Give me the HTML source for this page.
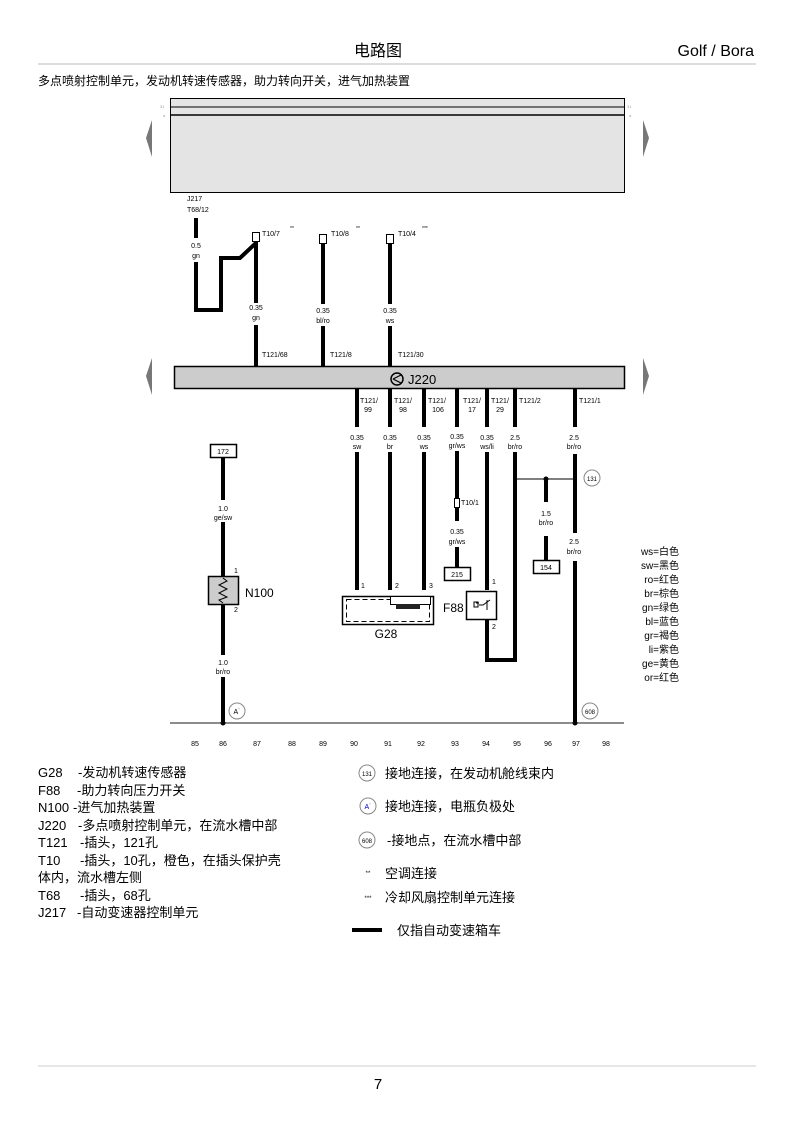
<!DOCTYPE html>
<html><head><meta charset="utf-8"><style>
html,body{margin:0;padding:0;background:#fff}
svg{display:block}
text{font-family:"Liberation Sans","Noto Sans CJK SC",sans-serif;fill:#000}
.s{font-size:7px}
.c{text-anchor:middle}
.w{stroke:#000;stroke-width:4;fill:none}
.t{font-size:13px}
</style></head><body>
<svg width="794" height="1123" viewBox="0 0 794 1123" xmlns="http://www.w3.org/2000/svg">
<text x="378" y="56" class="c" style="font-size:16px">电路图</text>
<text x="754" y="56" style="font-size:16px;text-anchor:end">Golf / Bora</text>
<line x1="38" y1="64" x2="756" y2="64" stroke="#bbb"/>
<text x="38" y="85" style="font-size:12px">多点喷射控制单元，发动机转速传感器，助力转向开关，进气加热装置</text>

<rect x="170.5" y="98.5" width="454" height="94" fill="#e4e4e4" stroke="#000"/>
<line x1="170" y1="107" x2="624" y2="107" stroke="#000"/>
<line x1="170" y1="115" x2="624" y2="115" stroke="#000" stroke-width="1.5"/>
<text x="160" y="108" style="font-size:4px;fill:#999">31</text>
<text x="163" y="117" style="font-size:4px;fill:#999">a</text>
<text x="627" y="108" style="font-size:4px;fill:#999">31</text>
<text x="629" y="117" style="font-size:4px;fill:#999">a</text>
<polygon points="152,120 146,138 152,157" fill="#777"/>
<polygon points="643,120 649,138 643,157" fill="#777"/>
<polygon points="152,358 146,376 152,395" fill="#777"/>
<polygon points="643,358 649,376 643,395" fill="#777"/>

<rect x="174.5" y="366.5" width="450" height="22" fill="#ccc" stroke="#000" stroke-width="1.5"/>
<circle cx="397" cy="379" r="6" fill="none" stroke="#000" stroke-width="1.5"/>
<path d="M393,379 L401,375 M393,379 L401,383" stroke="#000" stroke-width="1.2"/>
<text x="408" y="384" style="font-size:13px">J220</text>

<text x="187" y="201" class="s">J217</text>
<text x="187" y="212" class="s">T68/12</text>
<line x1="196" y1="218" x2="196" y2="238" class="w"/>
<text x="196" y="248" class="s c">0.5</text>
<text x="196" y="258" class="s c">gn</text>
<path d="M196,262 V310 H221 V258 H240 L256,243" class="w"/>
<g>
<rect x="252.5" y="232.5" width="7" height="9" fill="#fff" stroke="#000"/>
<line x1="256" y1="242" x2="256" y2="303" class="w"/>
<text x="262" y="236" class="s">T10/7</text><text x="290" y="230" style="font-size:5px">**</text>
<text x="256" y="310" class="s c">0.35</text><text x="256" y="320" class="s c">gn</text>
<line x1="256" y1="325" x2="256" y2="366" class="w"/>
<text x="262" y="357" class="s">T121/68</text>
</g>
<g>
<rect x="319.5" y="234.5" width="7" height="9" fill="#fff" stroke="#000"/>
<line x1="323" y1="244" x2="323" y2="304" class="w"/>
<text x="331" y="236" class="s">T10/8</text><text x="356" y="230" style="font-size:5px">**</text>
<text x="323" y="313" class="s c">0.35</text><text x="323" y="323" class="s c">bl/ro</text>
<line x1="323" y1="326" x2="323" y2="366" class="w"/>
<text x="330" y="357" class="s">T121/8</text>
</g>
<g>
<rect x="386.5" y="234.5" width="7" height="9" fill="#fff" stroke="#000"/>
<line x1="390" y1="244" x2="390" y2="304" class="w"/>
<text x="398" y="236" class="s">T10/4</text><text x="422" y="230" style="font-size:5px">***</text>
<text x="390" y="313" class="s c">0.35</text><text x="390" y="323" class="s c">ws</text>
<line x1="390" y1="326" x2="390" y2="366" class="w"/>
<text x="398" y="357" class="s">T121/30</text>
</g>

<g class="s">
<text x="360" y="403">T121/</text><text x="368" y="412" class="c">99</text>
<text x="394" y="403">T121/</text><text x="403" y="412" class="c">98</text>
<text x="428" y="403">T121/</text><text x="438" y="412" class="c">106</text>
<text x="463" y="403">T121/</text><text x="472" y="412" class="c">17</text>
<text x="491" y="403">T121/</text><text x="500" y="412" class="c">29</text>
<text x="519" y="403">T121/2</text>
<text x="579" y="403">T121/1</text>
</g>
<g class="w">
<line x1="357" y1="389" x2="357" y2="427"/><line x1="357" y1="452" x2="357" y2="590"/>
<line x1="390" y1="389" x2="390" y2="427"/><line x1="390" y1="452" x2="390" y2="590"/>
<line x1="424" y1="389" x2="424" y2="427"/><line x1="424" y1="452" x2="424" y2="590"/>
<line x1="457" y1="389" x2="457" y2="427"/><line x1="457" y1="451" x2="457" y2="498"/><line x1="457" y1="508" x2="457" y2="521"/><line x1="457" y1="547" x2="457" y2="568"/>
<line x1="487" y1="389" x2="487" y2="427"/><line x1="487" y1="452" x2="487" y2="590"/>
<path d="M487,620 V660 H515 V452"/><line x1="515" y1="389" x2="515" y2="427"/>
<line x1="575" y1="389" x2="575" y2="427"/><line x1="575" y1="454" x2="575" y2="533"/><line x1="575" y1="561" x2="575" y2="723"/>
<line x1="546" y1="479" x2="546" y2="502"/><line x1="546" y1="536" x2="546" y2="560"/>
<line x1="223" y1="458" x2="223" y2="500"/><line x1="223" y1="522" x2="223" y2="577"/>
<line x1="223" y1="604" x2="223" y2="655"/><line x1="223" y1="677" x2="223" y2="723"/>
</g>
<g class="s c">
<text x="357" y="440">0.35</text><text x="357" y="449">sw</text>
<text x="390" y="440">0.35</text><text x="390" y="449">br</text>
<text x="424" y="440">0.35</text><text x="424" y="449">ws</text>
<text x="457" y="439">0.35</text><text x="457" y="448">gr/ws</text>
<text x="487" y="440">0.35</text><text x="487" y="449">ws/li</text>
<text x="515" y="440">2.5</text><text x="515" y="449">br/ro</text>
<text x="574" y="440">2.5</text><text x="574" y="449">br/ro</text>
<text x="457" y="534">0.35</text><text x="457" y="544">gr/ws</text>
<text x="546" y="516">1.5</text><text x="546" y="525">br/ro</text>
<text x="574" y="544">2.5</text><text x="574" y="554">br/ro</text>
<text x="223" y="511">1.0</text><text x="223" y="520">ge/sw</text>
<text x="223" y="665">1.0</text><text x="223" y="674">br/ro</text>
</g>
<rect x="454.5" y="498.5" width="5" height="9" fill="#fff" stroke="#000"/>
<text x="461" y="505" class="s">T10/1</text>
<line x1="515" y1="479" x2="575" y2="479" stroke="#555" stroke-width="1.5"/>
<circle cx="515" cy="479" r="2"/><circle cx="546" cy="479" r="2.5"/><circle cx="575" cy="479" r="2"/>

<rect x="210.5" y="444.5" width="26" height="13" fill="#fff" stroke="#000" stroke-width="1.5"/><text x="223" y="454" class="s c">172</text>
<rect x="444.5" y="567.5" width="26" height="13" fill="#fff" stroke="#000" stroke-width="1.5"/><text x="457" y="577" class="s c">215</text>
<rect x="533.5" y="560.5" width="26" height="13" fill="#fff" stroke="#000" stroke-width="1.5"/><text x="546" y="570" class="s c">154</text>

<rect x="208.5" y="576.5" width="30" height="28" fill="#ccc" stroke="#000" stroke-width="1.5"/>
<path d="M223,578 L227,581 L219,585 L227,589 L219,593 L227,597 L219,600 L223,603" stroke="#000" fill="none"/>
<text x="234" y="573" class="s">1</text><text x="234" y="612" class="s">2</text>
<text x="245" y="597" style="font-size:12px">N100</text>

<rect x="342.5" y="596.5" width="91" height="28" fill="#fff" stroke="#000" stroke-width="1.5"/>
<rect x="346.5" y="599.5" width="83" height="22" fill="none" stroke="#000" stroke-dasharray="5,3"/>
<rect x="390.5" y="596.5" width="40" height="8" fill="#fff" stroke="#000"/>
<rect x="396" y="604" width="24" height="5" fill="#222"/>
<text x="361" y="588" class="s">1</text><text x="395" y="588" class="s">2</text><text x="429" y="588" class="s">3</text>
<text x="386" y="638" class="c" style="font-size:12px">G28</text>

<rect x="466.5" y="591.5" width="30" height="28" fill="#fff" stroke="#000" stroke-width="1.5"/>
<path d="M476,603 h3 M479,605 h4 L490,600 M487,600 V610" stroke="#000" fill="none"/>
<rect x="474" y="602" width="4" height="5" fill="none" stroke="#000"/>
<text x="492" y="584" class="s">1</text><text x="492" y="629" class="s">2</text>
<text x="443" y="612" style="font-size:12px">F88</text>

<line x1="170" y1="723" x2="624" y2="723" stroke="#666" stroke-width="1.5"/>
<circle cx="223" cy="723" r="2.5"/><circle cx="575" cy="723" r="2.5"/>
<circle cx="237" cy="711" r="8" fill="#fff" stroke="#888"/><text x="237" y="714" class="c" style="font-size:7px">A˙</text>
<circle cx="590" cy="711" r="8" fill="#fff" stroke="#888"/><text x="590" y="714" class="c" style="font-size:6px">608</text>
<circle cx="592" cy="478" r="8" fill="#fff" stroke="#888"/><text x="592" y="481" class="c" style="font-size:6px">131</text>

<g class="s c">
<text x="195" y="746">85</text><text x="223" y="746">86</text><text x="257" y="746">87</text><text x="292" y="746">88</text><text x="323" y="746">89</text><text x="354" y="746">90</text><text x="388" y="746">91</text><text x="421" y="746">92</text><text x="455" y="746">93</text><text x="486" y="746">94</text><text x="517" y="746">95</text><text x="548" y="746">96</text><text x="576" y="746">97</text><text x="606" y="746">98</text>
</g>

<g style="font-size:10px;text-anchor:end">
<text x="679" y="555">ws=白色</text><text x="679" y="569">sw=黑色</text><text x="679" y="583">ro=红色</text><text x="679" y="597">br=棕色</text><text x="679" y="611">gn=绿色</text><text x="679" y="625">bl=蓝色</text><text x="679" y="639">gr=褐色</text><text x="679" y="653">li=紫色</text><text x="679" y="667">ge=黄色</text><text x="679" y="681">or=红色</text>
</g>

<g class="t">
<text x="38" y="777">G28</text><text x="78" y="777">-发动机转速传感器</text>
<text x="38" y="795">F88</text><text x="77" y="795">-助力转向压力开关</text>
<text x="38" y="812">N100</text><text x="73" y="812">-进气加热装置</text>
<text x="38" y="830">J220</text><text x="78" y="830">-多点喷射控制单元，在流水槽中部</text>
<text x="38" y="847">T121</text><text x="80" y="847">-插头，121孔</text>
<text x="38" y="865">T10</text><text x="80" y="865">-插头，10孔，橙色，在插头保护壳</text>
<text x="38" y="882">体内，流水槽左侧</text>
<text x="38" y="900">T68</text><text x="80" y="900">-插头，68孔</text>
<text x="38" y="917">J217</text><text x="77" y="917">-自动变速器控制单元</text>
<text x="385" y="778">接地连接，在发动机舱线束内</text>
<text x="385" y="811">接地连接，电瓶负极处</text>
<text x="387" y="845">-接地点，在流水槽中部</text>
<text x="385" y="878">空调连接</text>
<text x="385" y="902">冷却风扇控制单元连接</text>
<text x="397" y="935">仅指自动变速箱车</text>
</g>
<circle cx="367" cy="773" r="8" fill="#fff" stroke="#888"/><text x="367" y="776" class="c" style="font-size:6px">131</text>
<circle cx="368" cy="806" r="8" fill="#fff" stroke="#888"/><text x="368" y="809" class="c" style="font-size:7px;fill:#00c">A˙</text>
<circle cx="367" cy="840" r="8" fill="#fff" stroke="#888"/><text x="367" y="843" class="c" style="font-size:6px">608</text>
<text x="368" y="875" class="c" style="font-size:6px">**</text>
<text x="368" y="900" class="c" style="font-size:6px">***</text>
<line x1="352" y1="930" x2="382" y2="930" stroke="#000" stroke-width="4"/>

<line x1="38" y1="1066" x2="756" y2="1066" stroke="#ccc"/>
<text x="378" y="1089" class="c" style="font-size:15px">7</text>
</svg>
</body></html>
